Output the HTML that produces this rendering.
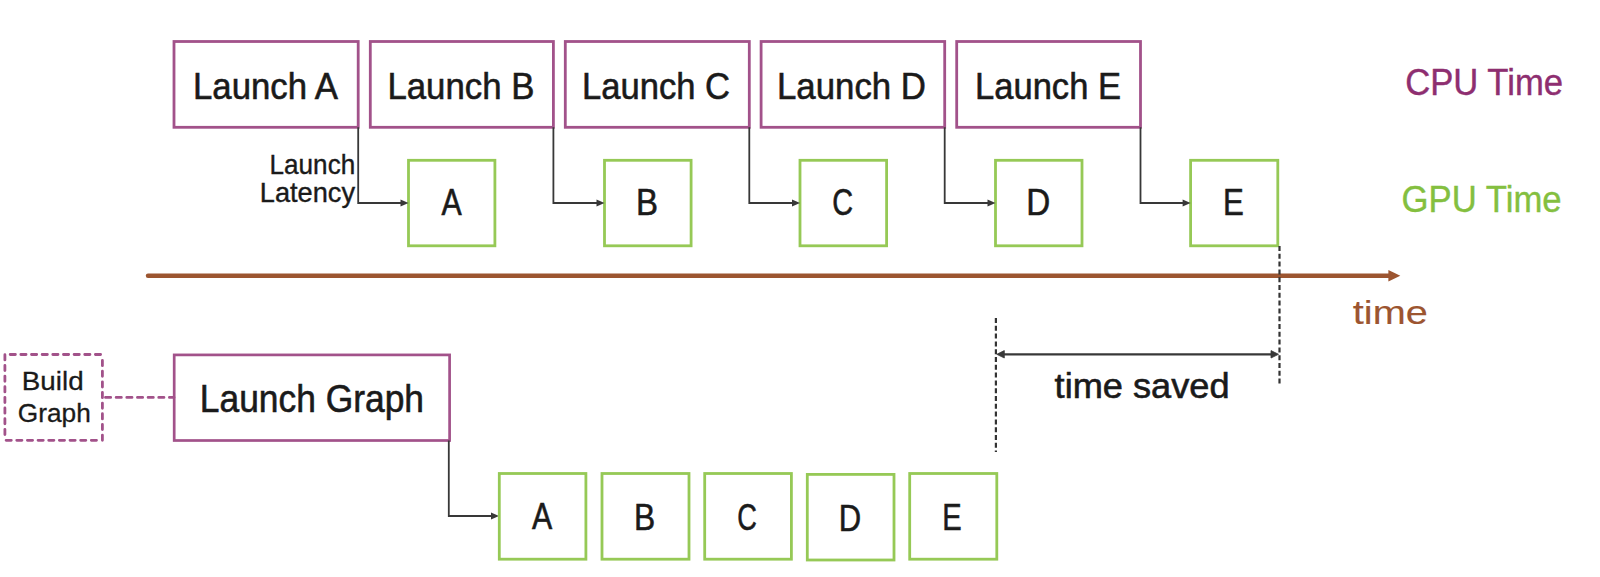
<!DOCTYPE html><html><head><meta charset="utf-8"><style>html,body{margin:0;padding:0;background:#fff;width:1600px;height:577px;overflow:hidden}svg{display:block}</style></head><body>
<svg width="1600" height="577" viewBox="0 0 1600 577">
<rect x="174" y="41.5" width="184.20" height="85.80" fill="none" stroke="#a2528a" stroke-width="2.8"/>
<rect x="370.3" y="41.5" width="183.10" height="85.80" fill="none" stroke="#a2528a" stroke-width="2.8"/>
<rect x="565.3" y="41.5" width="184.00" height="85.80" fill="none" stroke="#a2528a" stroke-width="2.8"/>
<rect x="761.1" y="41.5" width="183.60" height="85.80" fill="none" stroke="#a2528a" stroke-width="2.8"/>
<rect x="956.7" y="41.5" width="183.80" height="85.80" fill="none" stroke="#a2528a" stroke-width="2.8"/>
<rect x="408.5" y="160.3" width="86.40" height="85.50" fill="none" stroke="#96c956" stroke-width="2.8"/>
<rect x="604.5" y="160.3" width="86.60" height="85.50" fill="none" stroke="#96c956" stroke-width="2.8"/>
<rect x="800" y="160.3" width="86.60" height="85.50" fill="none" stroke="#96c956" stroke-width="2.8"/>
<rect x="995.5" y="160.3" width="86.50" height="85.50" fill="none" stroke="#96c956" stroke-width="2.8"/>
<rect x="1190.6" y="160.3" width="87.20" height="85.50" fill="none" stroke="#96c956" stroke-width="2.8"/>
<path d="M358.2 127.3 V203 H401.5" fill="none" stroke="#383838" stroke-width="1.8"/>
<path d="M400.5 199.5 L408.5 203 L400.5 206.5 Z" fill="#383838"/>
<path d="M553.4 127.3 V203 H597.5" fill="none" stroke="#383838" stroke-width="1.8"/>
<path d="M596.5 199.5 L604.5 203 L596.5 206.5 Z" fill="#383838"/>
<path d="M749.3 127.3 V203 H793" fill="none" stroke="#383838" stroke-width="1.8"/>
<path d="M792 199.5 L800 203 L792 206.5 Z" fill="#383838"/>
<path d="M944.7 127.3 V203 H988.5" fill="none" stroke="#383838" stroke-width="1.8"/>
<path d="M987.5 199.5 L995.5 203 L987.5 206.5 Z" fill="#383838"/>
<path d="M1140.5 127.3 V203 H1183.6" fill="none" stroke="#383838" stroke-width="1.8"/>
<path d="M1182.6 199.5 L1190.6 203 L1182.6 206.5 Z" fill="#383838"/>
<path d="M148 275.8 H1390" stroke="#9c5530" stroke-width="4.4" stroke-linecap="round"/>
<path d="M1388.4 269.9 L1400.3 275.8 L1388.4 281.5 Z" fill="#9c5530"/>
<path d="M10.2 354.5 H102.5" fill="none" stroke="#a2528a" stroke-width="2.8" stroke-linecap="round" stroke-dasharray="5.2 5.45"/>
<path d="M102.4 360.5 V440.3" fill="none" stroke="#a2528a" stroke-width="2.8" stroke-linecap="round" stroke-dasharray="5.2 5.45"/>
<path d="M96.5 440.3 H4.9" fill="none" stroke="#a2528a" stroke-width="2.8" stroke-linecap="round" stroke-dasharray="5.2 5.45"/>
<path d="M4.9 434.5 V354.5" fill="none" stroke="#a2528a" stroke-width="2.8" stroke-linecap="round" stroke-dasharray="5.2 5.45"/>
<path d="M105.5 397.4 H174" fill="none" stroke="#a2528a" stroke-width="2.8" stroke-linecap="round" stroke-dasharray="5.2 5.45"/>
<rect x="174.2" y="354.9" width="275.4" height="85.6" fill="none" stroke="#a2528a" stroke-width="2.7"/>
<path d="M448.8 440.5 V516 H492" fill="none" stroke="#383838" stroke-width="1.8"/>
<path d="M491 512.5 L499 516 L491 519.5 Z" fill="#383838"/>
<rect x="499.3" y="473.5" width="86.60" height="85.70" fill="none" stroke="#96c956" stroke-width="2.8"/>
<rect x="602" y="473.5" width="87.00" height="85.70" fill="none" stroke="#96c956" stroke-width="2.8"/>
<rect x="704.7" y="473.5" width="86.70" height="85.70" fill="none" stroke="#96c956" stroke-width="2.8"/>
<rect x="807.3" y="474.4" width="86.70" height="85.60" fill="none" stroke="#96c956" stroke-width="2.8"/>
<rect x="909.7" y="473.5" width="87.10" height="85.70" fill="none" stroke="#96c956" stroke-width="2.8"/>
<path d="M995.9 318 V452" stroke="#333" stroke-width="2.2" stroke-dasharray="5 2.8"/>
<path d="M1279.5 246 V385" stroke="#333" stroke-width="2.2" stroke-dasharray="5 2.8"/>
<path d="M1003 354.3 H1272" stroke="#383838" stroke-width="2.2"/>
<path d="M996.8 354.3 L1004.3 350.6 L1004.3 358 Z" fill="#383838" stroke="#383838" stroke-width="0.8" stroke-linejoin="round"/>
<path d="M1278.5 354.3 L1271 350.6 L1271 358 Z" fill="#383838" stroke="#383838" stroke-width="0.8" stroke-linejoin="round"/>
<text x="265.50" y="98.5" font-family="Liberation Sans" font-size="37" fill="#1a1a1a" text-anchor="middle" textLength="145.00" lengthAdjust="spacingAndGlyphs" stroke="#1a1a1a" stroke-width="0.6">Launch A</text>
<text x="460.90" y="98.8" font-family="Liberation Sans" font-size="37" fill="#1a1a1a" text-anchor="middle" textLength="147.00" lengthAdjust="spacingAndGlyphs" stroke="#1a1a1a" stroke-width="0.6">Launch B</text>
<text x="656.00" y="98.7" font-family="Liberation Sans" font-size="37" fill="#1a1a1a" text-anchor="middle" textLength="148.00" lengthAdjust="spacingAndGlyphs" stroke="#1a1a1a" stroke-width="0.6">Launch C</text>
<text x="851.50" y="98.7" font-family="Liberation Sans" font-size="37" fill="#1a1a1a" text-anchor="middle" textLength="149.00" lengthAdjust="spacingAndGlyphs" stroke="#1a1a1a" stroke-width="0.6">Launch D</text>
<text x="1048.00" y="98.7" font-family="Liberation Sans" font-size="37" fill="#1a1a1a" text-anchor="middle" textLength="146.00" lengthAdjust="spacingAndGlyphs" stroke="#1a1a1a" stroke-width="0.6">Launch E</text>
<text x="312.40" y="173.5" font-family="Liberation Sans" font-size="28" fill="#1a1a1a" text-anchor="middle" textLength="85.60" lengthAdjust="spacingAndGlyphs" stroke="#1a1a1a" stroke-width="0.4">Launch</text>
<text x="307.40" y="202" font-family="Liberation Sans" font-size="28" fill="#1a1a1a" text-anchor="middle" textLength="95.20" lengthAdjust="spacingAndGlyphs" stroke="#1a1a1a" stroke-width="0.4">Latency</text>
<text x="451.70" y="215.1" font-family="Liberation Sans" font-size="37" fill="#1a1a1a" text-anchor="middle" textLength="20.20" lengthAdjust="spacingAndGlyphs" stroke="#1a1a1a" stroke-width="0.6">A</text>
<text x="647.00" y="215.1" font-family="Liberation Sans" font-size="37" fill="#1a1a1a" text-anchor="middle" textLength="22.00" lengthAdjust="spacingAndGlyphs" stroke="#1a1a1a" stroke-width="0.6">B</text>
<text x="842.60" y="215.1" font-family="Liberation Sans" font-size="37" fill="#1a1a1a" text-anchor="middle" textLength="20.80" lengthAdjust="spacingAndGlyphs" stroke="#1a1a1a" stroke-width="0.6">C</text>
<text x="1038.20" y="215.1" font-family="Liberation Sans" font-size="37" fill="#1a1a1a" text-anchor="middle" textLength="24.00" lengthAdjust="spacingAndGlyphs" stroke="#1a1a1a" stroke-width="0.6">D</text>
<text x="1233.40" y="215.1" font-family="Liberation Sans" font-size="37" fill="#1a1a1a" text-anchor="middle" textLength="20.80" lengthAdjust="spacingAndGlyphs" stroke="#1a1a1a" stroke-width="0.6">E</text>
<text x="1484.10" y="95" font-family="Liberation Sans" font-size="37" fill="#8e2e70" text-anchor="middle" textLength="157.80" lengthAdjust="spacingAndGlyphs" stroke="#8e2e70" stroke-width="0.4">CPU Time</text>
<text x="1481.60" y="211.6" font-family="Liberation Sans" font-size="37" fill="#84bf3f" text-anchor="middle" textLength="160.00" lengthAdjust="spacingAndGlyphs" stroke="#84bf3f" stroke-width="0.4">GPU Time</text>
<text x="1390.30" y="324" font-family="Liberation Sans" font-size="34" fill="#9c5530" text-anchor="middle" textLength="75.00" lengthAdjust="spacingAndGlyphs" stroke="#9c5530" stroke-width="0.15">time</text>
<text x="52.70" y="390.1" font-family="Liberation Sans" font-size="26" fill="#1a1a1a" text-anchor="middle" textLength="61.80" lengthAdjust="spacingAndGlyphs" stroke="#1a1a1a" stroke-width="0.3">Build</text>
<text x="54.30" y="422.4" font-family="Liberation Sans" font-size="26" fill="#1a1a1a" text-anchor="middle" textLength="73.00" lengthAdjust="spacingAndGlyphs" stroke="#1a1a1a" stroke-width="0.3">Graph</text>
<text x="311.90" y="412" font-family="Liberation Sans" font-size="38" fill="#1a1a1a" text-anchor="middle" textLength="224.20" lengthAdjust="spacingAndGlyphs" stroke="#1a1a1a" stroke-width="0.6">Launch Graph</text>
<text x="1142.10" y="398.3" font-family="Liberation Sans" font-size="35.5" fill="#1a1a1a" text-anchor="middle" textLength="175.00" lengthAdjust="spacingAndGlyphs" stroke="#1a1a1a" stroke-width="0.6">time saved</text>
<text x="542.10" y="528.9" font-family="Liberation Sans" font-size="37" fill="#1a1a1a" text-anchor="middle" textLength="20.20" lengthAdjust="spacingAndGlyphs" stroke="#1a1a1a" stroke-width="0.6">A</text>
<text x="644.60" y="529.6" font-family="Liberation Sans" font-size="37" fill="#1a1a1a" text-anchor="middle" textLength="21.20" lengthAdjust="spacingAndGlyphs" stroke="#1a1a1a" stroke-width="0.6">B</text>
<text x="747.00" y="529.6" font-family="Liberation Sans" font-size="37" fill="#1a1a1a" text-anchor="middle" textLength="19.60" lengthAdjust="spacingAndGlyphs" stroke="#1a1a1a" stroke-width="0.6">C</text>
<text x="850.00" y="530.9" font-family="Liberation Sans" font-size="37" fill="#1a1a1a" text-anchor="middle" textLength="22.40" lengthAdjust="spacingAndGlyphs" stroke="#1a1a1a" stroke-width="0.6">D</text>
<text x="951.90" y="529.6" font-family="Liberation Sans" font-size="37" fill="#1a1a1a" text-anchor="middle" textLength="19.40" lengthAdjust="spacingAndGlyphs" stroke="#1a1a1a" stroke-width="0.6">E</text>
</svg></body></html>
